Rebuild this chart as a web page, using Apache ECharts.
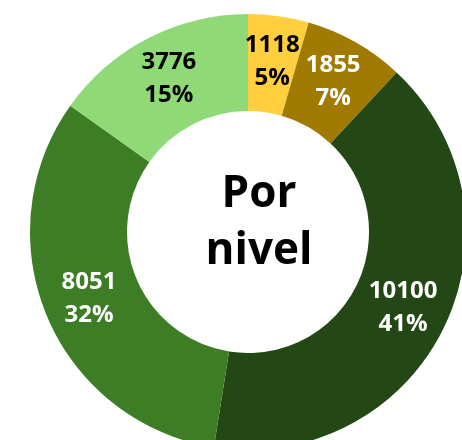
<!DOCTYPE html>
<html>
<head>
<meta charset="utf-8">
<script src="https://cdn.jsdelivr.net/npm/echarts@6/dist/echarts.min.js"></script>
<style>
  html, body { margin: 0; padding: 0; background: #fff; }
  #chart { width: 462px; height: 440px; }
</style>
</head>
<body>
<div id="chart"></div>
<script>
// datos por nivel (sentido horario desde arriba)
var niveles = ['Nivel 1', 'Nivel 2', 'Nivel 3', 'Nivel 4', 'Nivel 5'];
var valores = [1118, 1855, 10100, 8051, 3776];
var colores = ['#ffcf3f', '#a17a02', '#234815', '#3c7d25', '#8fd977'];
var colorTexto = ['#000', '#fff', '#fff', '#fff', '#000'];

var myChart = echarts.init(document.getElementById('chart'));

var datos = [];
for (var i = 0; i < valores.length; i++) {
    datos.push({
        value: valores[i],
        name: niveles[i],
        itemStyle: { color: colores[i] },
        label: { color: colorTexto[i] }
    });
}

var option = {
    animation: false,
    graphic: [{
        type: 'text',
        x: 259,
        y: 223,
        z: 100,
        style: {
            text: 'Por\nnivel',
            fill: '#000',
            fontFamily: 'Open Sans',
            fontSize: 44,
            fontWeight: 'bold',
            lineHeight: 57,
            align: 'center',
            verticalAlign: 'middle'
        }
    }],
    series: [{
        type: 'pie',
        center: [248, 232],
        radius: [121, 218],
        startAngle: 90,
        clockwise: true,
        percentPrecision: 0,
        avoidLabelOverlap: false,
        label: {
            show: true,
            position: 'inside',
            formatter: '{c}\n{d}%',
            fontFamily: 'Open Sans',
            fontWeight: 'bold',
            fontSize: 24,
            lineHeight: 33
        },
        labelLine: { show: false },
        itemStyle: { borderWidth: 0 },
        data: datos
    }]
};

myChart.setOption(option);
</script>
</body>
</html>
